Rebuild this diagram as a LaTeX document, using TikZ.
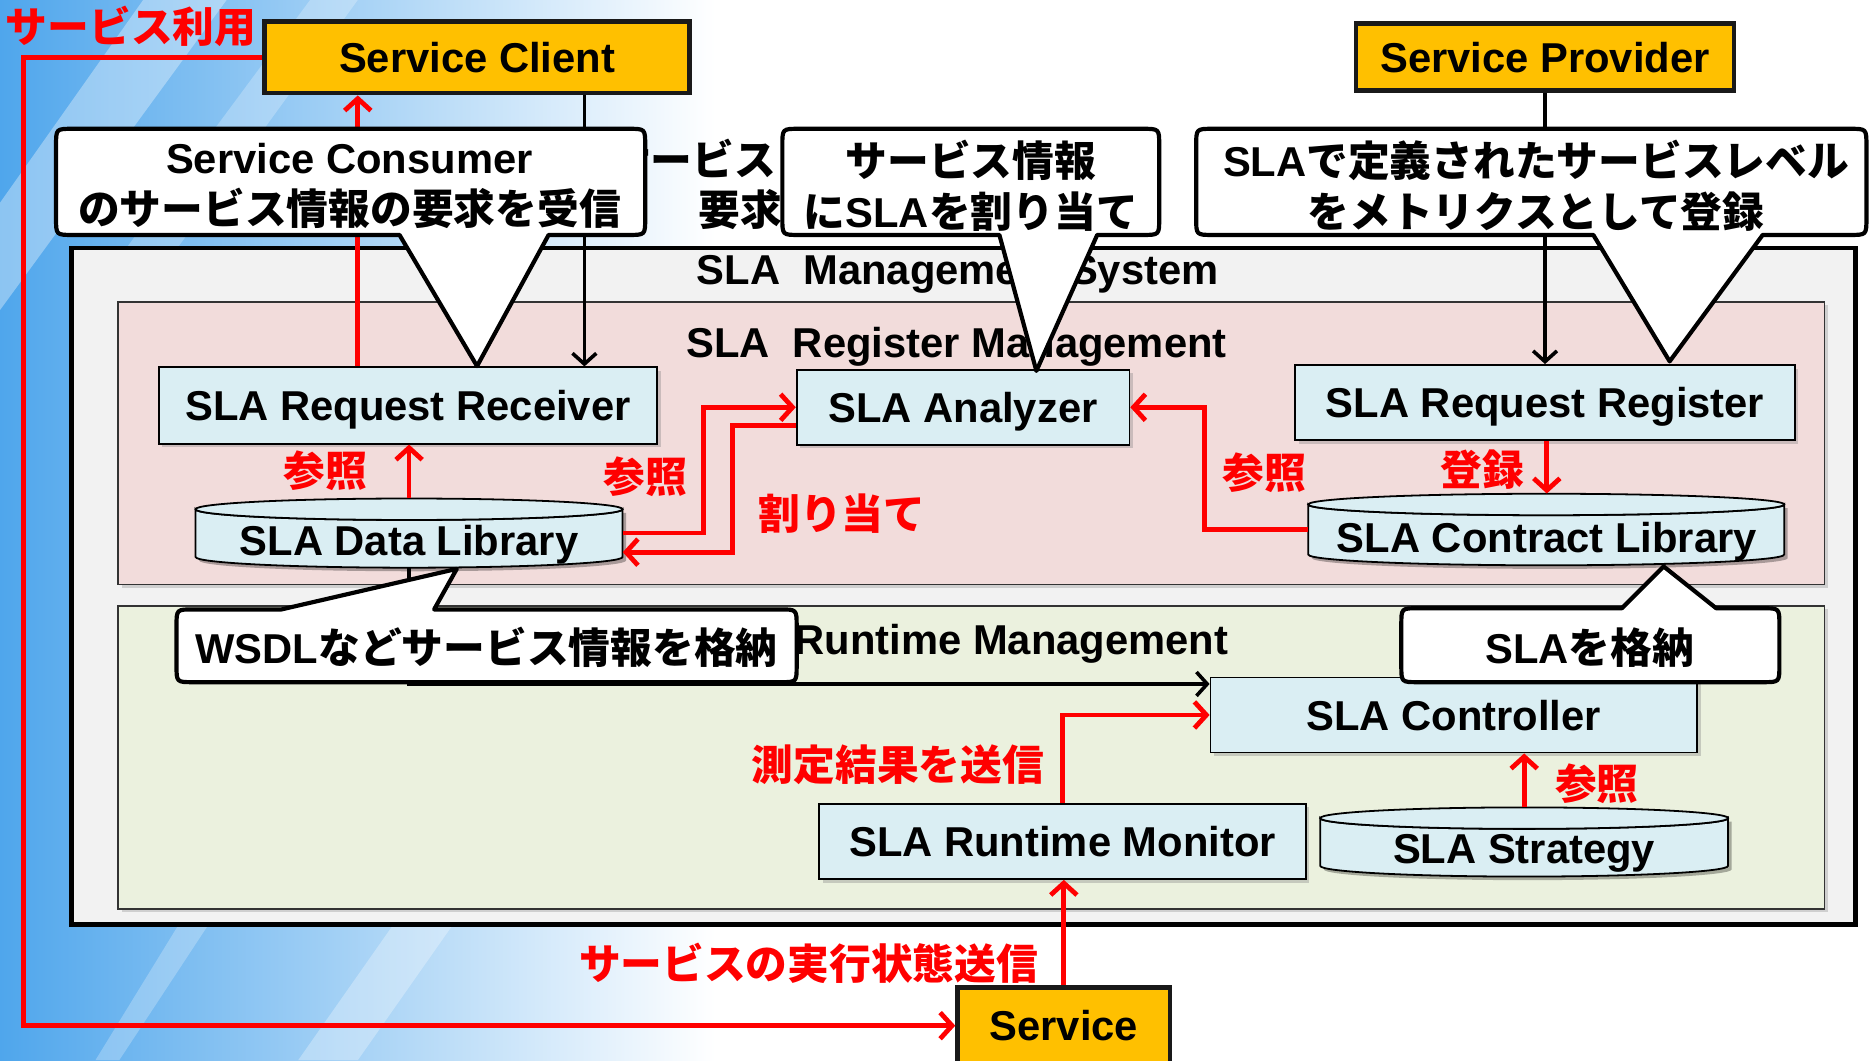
\documentclass[tikz,border=0pt]{standalone}
\usepackage{fontspec}
\setmainfont{Liberation Sans}
\newfontfamily\jp{Noto Sans CJK JP}
\usetikzlibrary{arrows.meta,shadows,calc}

\definecolor{gold}{HTML}{FFC000}
\definecolor{sysfill}{HTML}{F2F2F2}
\definecolor{regfill}{HTML}{F2DCDB}
\definecolor{runfill}{HTML}{EBF1DE}
\definecolor{compfill}{HTML}{DAEEF3}
\definecolor{arrred}{HTML}{FF0000}
\definecolor{bgA}{HTML}{4FA6EC}
\definecolor{bgB}{HTML}{C2E0F8}

\newcommand\J[1]{{\jp #1}}
\newcommand\fs{\fontsize{35}{43}\selectfont\bfseries}

% database cylinder: x1, y1, x2, y2, ellipse radius
\newcommand\cylshape[5]{%
  \pgfmathsetmacro\cx{(#1+#3)/2}%
  \pgfmathsetmacro\rx{(#3-#1)/2}%
  \pgfmathsetmacro\ya{#2+#5}%
  \pgfmathsetmacro\yb{#4-#5}%
  \fill[black,opacity=.3] (#1+3,\ya+3) -- (#1+3,\yb+3)
     arc[start angle=180,end angle=0,x radius=\rx,y radius=#5] -- (#3+3,\ya+3) -- cycle;
  \filldraw[cylbody] (#1,\ya) -- (#1,\yb)
     arc[start angle=180,end angle=0,x radius=\rx,y radius=#5] -- (#3,\ya)
     arc[start angle=0,end angle=180,x radius=\rx,y radius=#5] -- cycle;
  \filldraw[cylbody] (\cx,\ya) ellipse[x radius=\rx,y radius=#5];
}

\tikzset{
  actor/.style={draw=black!90, line width=4pt, fill=gold, font=\fs, inner sep=0, text depth=0pt},
  sysbox/.style={draw=black, line width=4pt, fill=sysfill, inner sep=0},
  subbox/.style={draw=black!80, line width=1.3pt, inner sep=0,
    drop shadow={shadow xshift=3pt, shadow yshift=-3pt, opacity=.3}},
  comp/.style={draw=black, line width=1.5pt, fill=compfill, font=\fs, inner sep=0, text depth=0pt,
    drop shadow={shadow xshift=3pt, shadow yshift=-3pt, opacity=.35}},
  cylbody/.style={draw=black, line width=1.5pt, fill=compfill},
  cylanchor/.style={inner sep=0, draw=none},
  ttl/.style={font=\fs, inner sep=0, text depth=0pt},
  redarr/.style={draw=arrred, line width=4pt, -{Straight Barb[length=10pt,width=22pt]}},
  blkarr/.style={draw=black, line width=3pt, -{Straight Barb[length=9pt,width=20pt]}},
  callout/.style={draw=black, fill=white, line width=3.5pt, line join=round},
  ctext/.style={font=\fs, align=center, inner sep=0},
  rlbl/.style={text=arrred, font=\fs\jp, inner sep=0},
}

\begin{document}
\begin{tikzpicture}[x=1pt,y=-1pt]
\useasboundingbox (0,0) rectangle (1568,889);

% backdrop
\fill[white] (0,0) rectangle (1568,889);
\shade[left color=bgA, middle color=bgB, right color=white] (0,0) rectangle (600,889);
\fill[white, opacity=.35] (120,0) -- (190,0) -- (0,260) -- (0,170) -- cycle;
\fill[white, opacity=.25] (260,0) -- (300,0) -- (60,330) -- (60,270) -- cycle;
\fill[white, opacity=.3] (330,775) -- (380,775) -- (300,889) -- (250,889) -- cycle;
\fill[white, opacity=.25] (150,775) -- (175,775) -- (100,889) -- (80,889) -- cycle;

% outer actors
\node[actor, minimum width=356, minimum height=60] (client) at (400,48) {Service Client};
\node[actor, minimum width=317, minimum height=56] (prov) at (1295.5,48) {Service Provider};
\node[actor, minimum width=178, minimum height=64] (svc) at (892,860) {Service};

% management system and its two parts
\node[sysbox, minimum width=1496, minimum height=567] (sys) at (808,491.5) {};
\node[subbox, fill=regfill, minimum width=1431, minimum height=237] (regm) at (814.5,371.5) {};
\node[subbox, fill=runfill, minimum width=1431, minimum height=254] (runm) at (814.5,635) {};
\node[ttl] (systtl) at (803,226) {SLA\ \ Management System};
\node[ttl] (regttl) at (802,287) {SLA\ \ Register Management};
\node[ttl, anchor=west] (runttl) at (666,536) {Runtime Management};

% components
\node[comp, minimum width=418, minimum height=64] (rcv) at (342,340) {SLA Request Receiver};
\node[comp, minimum width=279, minimum height=63] (ana) at (807.5,341.5) {SLA Analyzer};
\node[comp, minimum width=419, minimum height=63] (reg) at (1295.5,337.5) {SLA Request Register};
\node[comp, minimum width=408, minimum height=63] (ctl) at (1219,599.5) {SLA Controller};
\node[comp, minimum width=408, minimum height=63] (mon) at (891,705.5) {SLA Runtime Monitor};

% libraries
\cylshape{164}{418}{522}{476}{9}
\node[cylanchor, minimum width=358, minimum height=58] (dlib) at (343,447) {};
\node[ttl] (dlibtxt) at (343,453) {SLA Data Library};
\cylshape{1097}{414}{1496}{474}{9}
\node[cylanchor, minimum width=399, minimum height=60] (clib) at (1296.5,444) {};
\node[ttl] (clibtxt) at (1297,451) {SLA Contract Library};
\cylshape{1107}{677}{1449}{735}{9}
\node[cylanchor, minimum width=342, minimum height=58] (strat) at (1278,706) {};
\node[ttl] (strattxt) at (1278,712) {SLA Strategy};

% red flows
\draw[redarr] ([xshift=-42pt]rcv.north) -- ([xshift=-42pt]rcv.north |- client.south);
\draw[redarr] (client.west) -- ++(-200,0) |- (svc.west);
\draw[redarr] (dlib.north) -- (dlib.north |- rcv.south);
\draw[redarr] (dlib.east) -- ++(68,0) |- (ana.west);
\draw[redarr] ([yshift=-15pt]ana.west) -- ++(-53,0) |- ([yshift=-16pt]dlib.east);
\draw[redarr] (clib.west) -- ++(-87,0) |- (ana.east);
\draw[redarr] ([xshift=1.5pt]reg.south) -- ([xshift=1.5pt]reg.south |- clib.north);
\draw[redarr] (mon.north) |- (ctl.west);
\draw[redarr] (strat.north) -- (strat.north |- ctl.south);
\draw[redarr] (svc.north) -- (svc.north |- mon.south);

% black flows
\draw[blkarr] ([xshift=90pt]client.south) -- ([xshift=90pt]client.south |- rcv.north);
\draw[blkarr] (prov.south) -- (prov.south |- reg.north);
\draw[blkarr] (dlib.south) |- ([yshift=26pt]ctl.west);

% request label, partly behind the callouts
\node[ctext, anchor=east] (reqa) at (651,133) {\J{サービス}};
\node[ctext, anchor=east] (reqb) at (656,176) {\J{要求}};

% callouts
\path[callout] (61,108) -- (527,108) .. controls (541,108) .. (541,122) -- (541,183)
  .. controls (541,197) .. (527,197) -- (460,197) -- (400,307) -- (335,197) -- (61,197)
  .. controls (47,197) .. (47,183) -- (47,122) .. controls (47,108) .. (61,108) -- cycle;
\node[ctext] (c1) at (293,156) {Service Consumer\\\J{のサービス情報の要求を受信}};

\path[callout] (670,108) -- (958,108) .. controls (972,108) .. (972,122) -- (972,183)
  .. controls (972,197) .. (958,197) -- (920,197) -- (869,311) -- (838,197) -- (670,197)
  .. controls (656,197) .. (656,183) -- (656,122) .. controls (656,108) .. (670,108) -- cycle;
\node[ctext] (c2) at (814,156) {\J{サービス情報}\\\J{に}SLA\J{を割り当て}};

\path[callout] (1017,108) -- (1551,108) .. controls (1565,108) .. (1565,122) -- (1565,183)
  .. controls (1565,197) .. (1551,197) -- (1478,197) -- (1400,303) -- (1336,197) -- (1017,197)
  .. controls (1003,197) .. (1003,183) -- (1003,122) .. controls (1003,108) .. (1017,108) -- cycle;
\node[ctext] (c3) at (1288,156) {SLA\J{で定義されたサービスレベル}\\\J{をメトリクスとして登録}};

\path[callout] (162,511) -- (236,511) -- (383,477) -- (364,511) -- (654,511)
  .. controls (668,511) .. (668,525) -- (668,558) .. controls (668,572) .. (654,572) -- (162,572)
  .. controls (148,572) .. (148,558) -- (148,525) .. controls (148,511) .. (162,511) -- cycle;
\node[ctext] (c4) at (408,543) {WSDL\J{などサービス情報を格納}};

\path[callout] (1189,510) -- (1360,510) -- (1395,475) -- (1439,510) -- (1478,510)
  .. controls (1492,510) .. (1492,524) -- (1492,558) .. controls (1492,572) .. (1478,572) -- (1189,572)
  .. controls (1175,572) .. (1175,558) -- (1175,524) .. controls (1175,510) .. (1189,510) -- cycle;
\node[ctext] (c5) at (1333,543) {SLA\J{を格納}};

% red labels
\node[rlbl] (l1) at (110,22) {サービス利用};
\node[rlbl] (l2) at (273,395) {参照};
\node[rlbl] (l3) at (541,400) {参照};
\node[rlbl] (l4) at (706,431) {割り当て};
\node[rlbl] (l5) at (1060,396) {参照};
\node[rlbl] (l6) at (1243,394) {登録};
\node[rlbl] (l7) at (753,641) {測定結果を送信};
\node[rlbl] (l8) at (1339,657) {参照};
\node[rlbl] (l9) at (678,808) {サービスの実行状態送信};
\end{tikzpicture}
\end{document}
